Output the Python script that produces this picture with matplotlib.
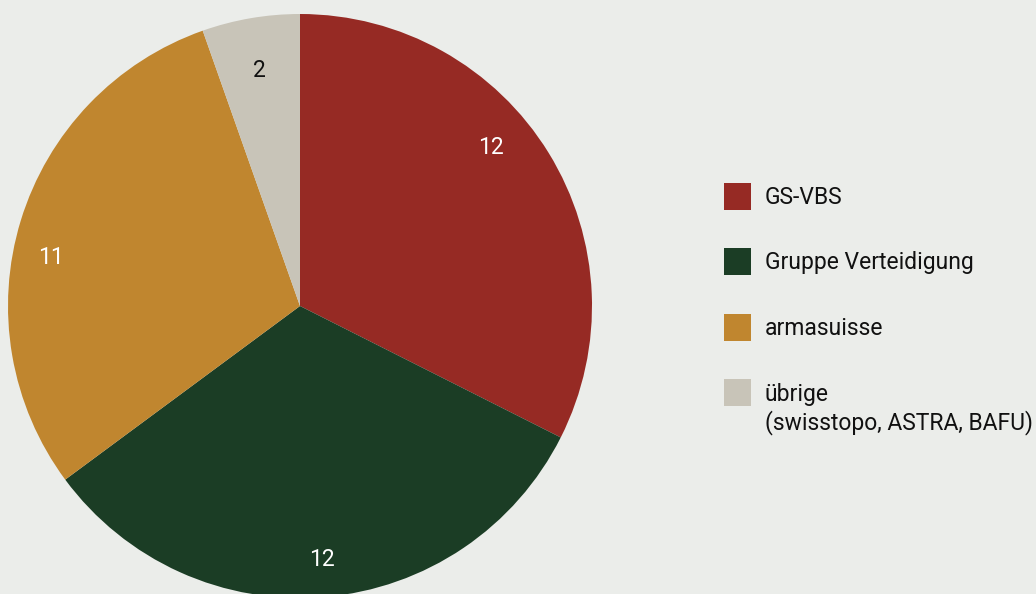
import numpy as np
import matplotlib.pyplot as plt
from matplotlib.patches import Rectangle

labels = ["GS-VBS", "Gruppe Verteidigung", "armasuisse",
          "übrige\n(swisstopo, ASTRA, BAFU)"]
values = [12, 12, 11, 2]
colors = ["#962a24", "#1b3d25", "#c0862f", "#c8c4b8"]
text_colors = ["white", "white", "white", "#111111"]

bg = "#ebedea"
plt.rcParams['font.family'] = ['Roboto', 'DejaVu Sans']

fig = plt.figure(figsize=(10.36, 5.94), dpi=100, facecolor=bg)
ax = fig.add_axes([0, 0, 1, 1])
ax.set_facecolor(bg)

# Pie: start at top, go clockwise.
cx, cy, rad = 300, 288, 292
wedges, _ = ax.pie(values, colors=colors, startangle=90, counterclock=False,
                   center=(cx, cy), radius=rad, frame=True,
                   wedgeprops=dict(linewidth=0))
ax.set_xlim(0, 1036)
ax.set_ylim(0, 594)
ax.set_aspect('equal')
ax.axis('off')

# Value labels inside the wedges (small angular nudges as in the original).
nudge = [8, 0, 6, 0]
dist = [0.85, 0.87, 0.87, 0.82]
for w, v, tc, dn, d in zip(wedges, values, text_colors, nudge, dist):
    mid = np.deg2rad((w.theta1 + w.theta2) / 2 + dn)
    r = d * w.r
    ax.text(cx + r * np.cos(mid), cy + r * np.sin(mid), str(v),
            ha='center', va='center', fontsize=16.5, color=tc)

# Legend drawn by hand.
for i, (lab, c) in enumerate(zip(labels, colors)):
    y = 594 - 196 - i * 65.5
    ax.add_patch(Rectangle((724, y - 13.5), 27, 27, color=c, lw=0))
    ax.text(765, y + 10, lab, ha='left', va='top', fontsize=16.5,
            color='#111111', linespacing=1.25)

fig.savefig("out.png", dpi=100, facecolor=bg)
